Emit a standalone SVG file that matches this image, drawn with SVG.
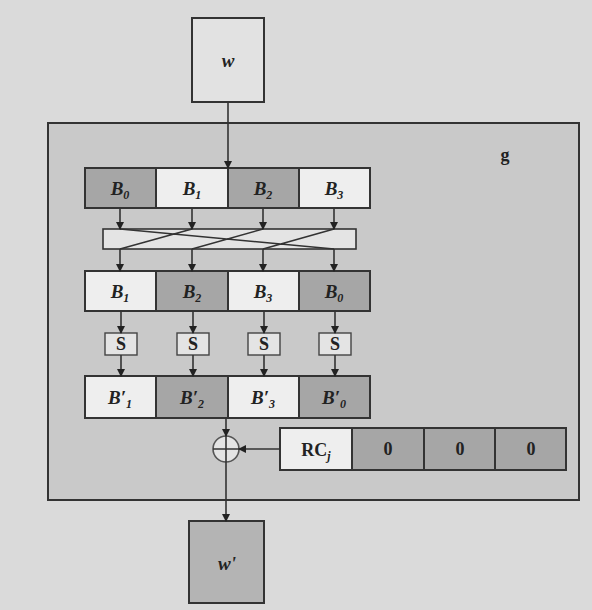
<svg xmlns="http://www.w3.org/2000/svg" width="592" height="610" viewBox="0 0 592 610">
<defs>
<marker id="ah" markerWidth="8" markerHeight="8" refX="7" refY="4" orient="auto" markerUnits="userSpaceOnUse">
<path d="M0,0 L8,4 L0,8 Z" fill="#222"/>
</marker>
<style>
.ln{stroke:#333;stroke-width:1.6;fill:none}
.cl{fill:#eeeeee;stroke:#333;stroke-width:2}
.cd{fill:#a6a6a6;stroke:#333;stroke-width:2}
.t{font-family:"Liberation Serif",serif;font-weight:bold;font-style:italic;font-size:19px;fill:#222;text-anchor:middle}
.n{font-family:"Liberation Serif",serif;font-weight:bold;font-size:18px;fill:#222;text-anchor:middle}
.s{font-size:12px}
</style>
</defs>
<rect x="0" y="0" width="592" height="610" fill="#dadada"/>
<g id="outer"><rect x="48" y="123" width="531" height="377" fill="#c9c9c9" stroke="#333" stroke-width="2"/><text x="505" y="161" class="n" font-size="16">g</text></g>
<g id="win"><rect x="192" y="18" width="72" height="84" fill="#e2e2e2" stroke="#333" stroke-width="2"/><text x="228" y="67" class="t" font-size="15">w</text></g>
<g id="wout"><rect x="189" y="521" width="75" height="82" fill="#b4b4b4" stroke="#333" stroke-width="2"/><text x="227" y="570" class="t" font-size="15">w'</text></g>
<g id="row1">
<rect x="85" y="168" width="71" height="40" class="cd"/><text x="120" y="195" class="t">B<tspan class="s" dy="4">0</tspan></text>
<rect x="156" y="168" width="72" height="40" class="cl"/><text x="192" y="195" class="t">B<tspan class="s" dy="4">1</tspan></text>
<rect x="228" y="168" width="71" height="40" class="cd"/><text x="263" y="195" class="t">B<tspan class="s" dy="4">2</tspan></text>
<rect x="299" y="168" width="71" height="40" class="cl"/><text x="334" y="195" class="t">B<tspan class="s" dy="4">3</tspan></text>
</g>
<g id="perm">
<rect x="103" y="229" width="253" height="20" fill="#e4e4e4" stroke="#333" stroke-width="1.6"/>
<path d="M120,229 L334,249 M192,229 L120,249 M263,229 L192,249 M334,229 L263,249" class="ln" stroke-width="1.2"/>
</g>
<g id="row2">
<rect x="85" y="271" width="71" height="40" class="cl"/><text x="120" y="298" class="t">B<tspan class="s" dy="4">1</tspan></text>
<rect x="156" y="271" width="72" height="40" class="cd"/><text x="192" y="298" class="t">B<tspan class="s" dy="4">2</tspan></text>
<rect x="228" y="271" width="71" height="40" class="cl"/><text x="263" y="298" class="t">B<tspan class="s" dy="4">3</tspan></text>
<rect x="299" y="271" width="71" height="40" class="cd"/><text x="334" y="298" class="t">B<tspan class="s" dy="4">0</tspan></text>
</g>
<g id="sboxes">
<rect x="105" y="333" width="32" height="22" fill="#e4e4e4" stroke="#444" stroke-width="1.4"/><text x="121" y="350" class="n" font-size="17">S</text>
<rect x="177" y="333" width="32" height="22" fill="#e4e4e4" stroke="#444" stroke-width="1.4"/><text x="193" y="350" class="n" font-size="17">S</text>
<rect x="248" y="333" width="32" height="22" fill="#e4e4e4" stroke="#444" stroke-width="1.4"/><text x="264" y="350" class="n" font-size="17">S</text>
<rect x="319" y="333" width="32" height="22" fill="#e4e4e4" stroke="#444" stroke-width="1.4"/><text x="335" y="350" class="n" font-size="17">S</text>
</g>
<g id="row3">
<rect x="85" y="376" width="71" height="42" class="cl"/><text x="120" y="404" class="t">B′<tspan class="s" dy="4">1</tspan></text>
<rect x="156" y="376" width="72" height="42" class="cd"/><text x="192" y="404" class="t">B′<tspan class="s" dy="4">2</tspan></text>
<rect x="228" y="376" width="71" height="42" class="cl"/><text x="263" y="404" class="t">B′<tspan class="s" dy="4">3</tspan></text>
<rect x="299" y="376" width="71" height="42" class="cd"/><text x="334" y="404" class="t">B′<tspan class="s" dy="4">0</tspan></text>
</g>
<g id="rc">
<rect x="280" y="428" width="72" height="42" class="cl"/><text x="316" y="456" class="n">RC<tspan class="s" dy="4" font-style="italic">j</tspan></text>
<rect x="352" y="428" width="72" height="42" class="cd"/><text x="388" y="455" class="n" font-size="15">0</text>
<rect x="424" y="428" width="71" height="42" class="cd"/><text x="460" y="455" class="n" font-size="15">0</text>
<rect x="495" y="428" width="71" height="42" class="cd"/><text x="531" y="455" class="n" font-size="15">0</text>
</g>
<g id="xor">
<circle cx="226" cy="449" r="13" fill="#e4e4e4" stroke="#555" stroke-width="1.6"/>
<path d="M213,449 H239 M226,436 V462" class="ln" stroke-width="1.4"/>
</g>
<g id="connectors">
<path d="M228,102 V168" class="ln" marker-end="url(#ah)"/>
<path d="M120,208 V229" class="ln" marker-end="url(#ah)"/>
<path d="M192,208 V229" class="ln" marker-end="url(#ah)"/>
<path d="M263,208 V229" class="ln" marker-end="url(#ah)"/>
<path d="M334,208 V229" class="ln" marker-end="url(#ah)"/>
<path d="M120,249 V271" class="ln" marker-end="url(#ah)"/>
<path d="M192,249 V271" class="ln" marker-end="url(#ah)"/>
<path d="M263,249 V271" class="ln" marker-end="url(#ah)"/>
<path d="M334,249 V271" class="ln" marker-end="url(#ah)"/>
<path d="M121,311 V333" class="ln" marker-end="url(#ah)"/>
<path d="M193,311 V333" class="ln" marker-end="url(#ah)"/>
<path d="M264,311 V333" class="ln" marker-end="url(#ah)"/>
<path d="M335,311 V333" class="ln" marker-end="url(#ah)"/>
<path d="M121,355 V376" class="ln" marker-end="url(#ah)"/>
<path d="M193,355 V376" class="ln" marker-end="url(#ah)"/>
<path d="M264,355 V376" class="ln" marker-end="url(#ah)"/>
<path d="M335,355 V376" class="ln" marker-end="url(#ah)"/>
<path d="M226,418 V436" class="ln" marker-end="url(#ah)"/>
<path d="M280,449 H239" class="ln" marker-end="url(#ah)"/>
<path d="M226,462 V521" class="ln" marker-end="url(#ah)"/>
</g>
</svg>
